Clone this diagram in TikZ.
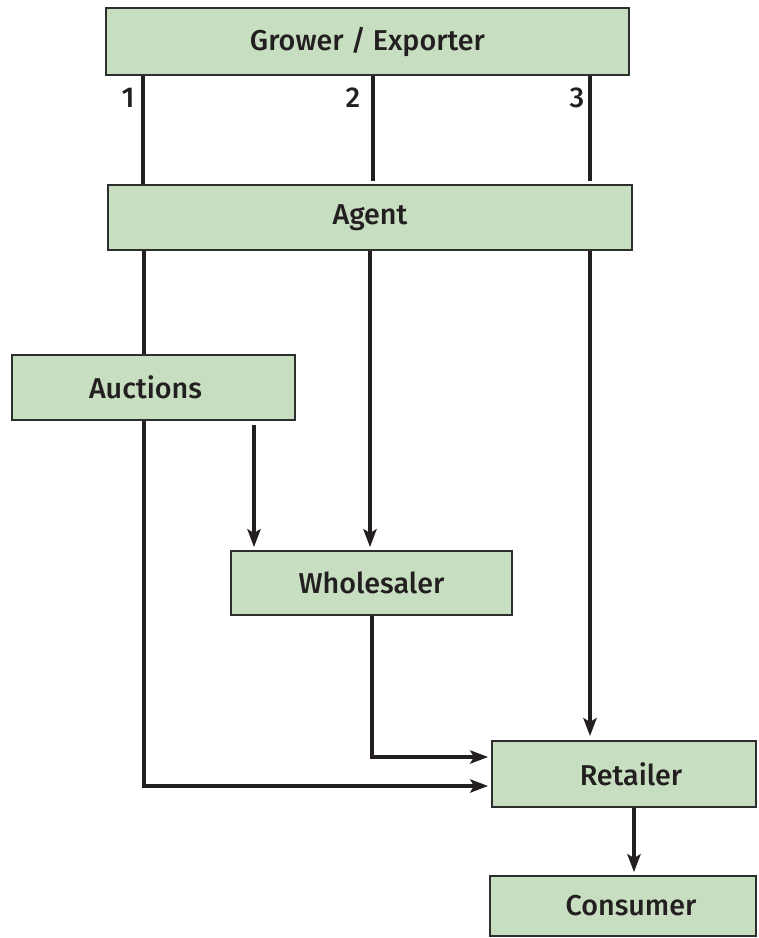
\documentclass[tikz,border=0pt]{standalone}
\usepackage{fontspec}
\setmainfont{Fira Sans Medium}
\usetikzlibrary{arrows.meta, positioning}
\definecolor{boxgreen}{HTML}{C7DEC1}
\definecolor{boxedge}{HTML}{2E2E2E}
\definecolor{ink}{HTML}{231F20}

\begin{document}
\begin{tikzpicture}[x=0.03cm, y=-0.03cm, font=\fontsize{24.5}{28}\selectfont,
  stage/.style={draw=boxedge, fill=boxgreen, line width=1.7pt, inner sep=0pt,
                text=ink},
  flow/.style={draw=ink, line width=2.6pt},
  flowto/.style={flow, shorten >=2.5pt,
                 -{Stealth[length=0.54cm, width=0.4cm, inset=0.12cm]}}]
  \useasboundingbox (0,0) rectangle (759,938);
  % the chain, top to bottom
  \node[stage, minimum width=15.69cm, minimum height=2.01cm] (grower)
    at (367.5,41.5) {Grower / Exporter};
  \node[stage, minimum width=15.72cm, minimum height=1.95cm] (agent)
    at (370,217.5) {Agent};
  \node[stage, minimum width=8.49cm, minimum height=1.95cm] (auctions)
    at (153.5,387.5) {Auctions\hspace*{0.48cm}};
  \node[stage, minimum width=8.43cm, minimum height=1.92cm] (wholesaler)
    at (371.5,583) {Wholesaler};
  \node[stage, minimum width=7.92cm, minimum height=1.98cm] (retailer)
    at (624,774) {\hspace*{0.42cm}Retailer};
  \node[stage, minimum width=7.98cm, minimum height=1.80cm] (consumer)
    at (623,906) {\hspace*{0.48cm}Consumer};
  % three channels out of the grower
  \foreach \x/\lx/\lab/\gap in {143/128/1/0, 373/353/2/2.5, 590/577/3/2.5}{%
    \node[text=ink] (ch\lab) at (\lx,98) {\lab};
    \draw[flow, shorten >=\gap pt] (\x,0 |- grower.south)
      -- (\x,0 |- agent.north);}
  % agent onwards
  \draw[flow] (144,0 |- agent.south) -- (144,0 |- auctions.north);
  \draw[flowto] (370,0 |- agent.south) -- (370,0 |- wholesaler.north);
  \draw[flowto, shorten >=3.4pt] (590,0 |- agent.south)
    -- (590,0 |- retailer.north);
  \draw[flowto, shorten <=3pt] (254,0 |- auctions.south)
    -- (254,0 |- wholesaler.north);
  \draw[flowto] (144,0 |- auctions.south) |- (retailer.west |- 0,786);
  \draw[flowto] (372,0 |- wholesaler.south) |- (retailer.west |- 0,757);
  \draw[flowto] (634,0 |- retailer.south) -- (634,0 |- consumer.north);
\end{tikzpicture}
\end{document}
